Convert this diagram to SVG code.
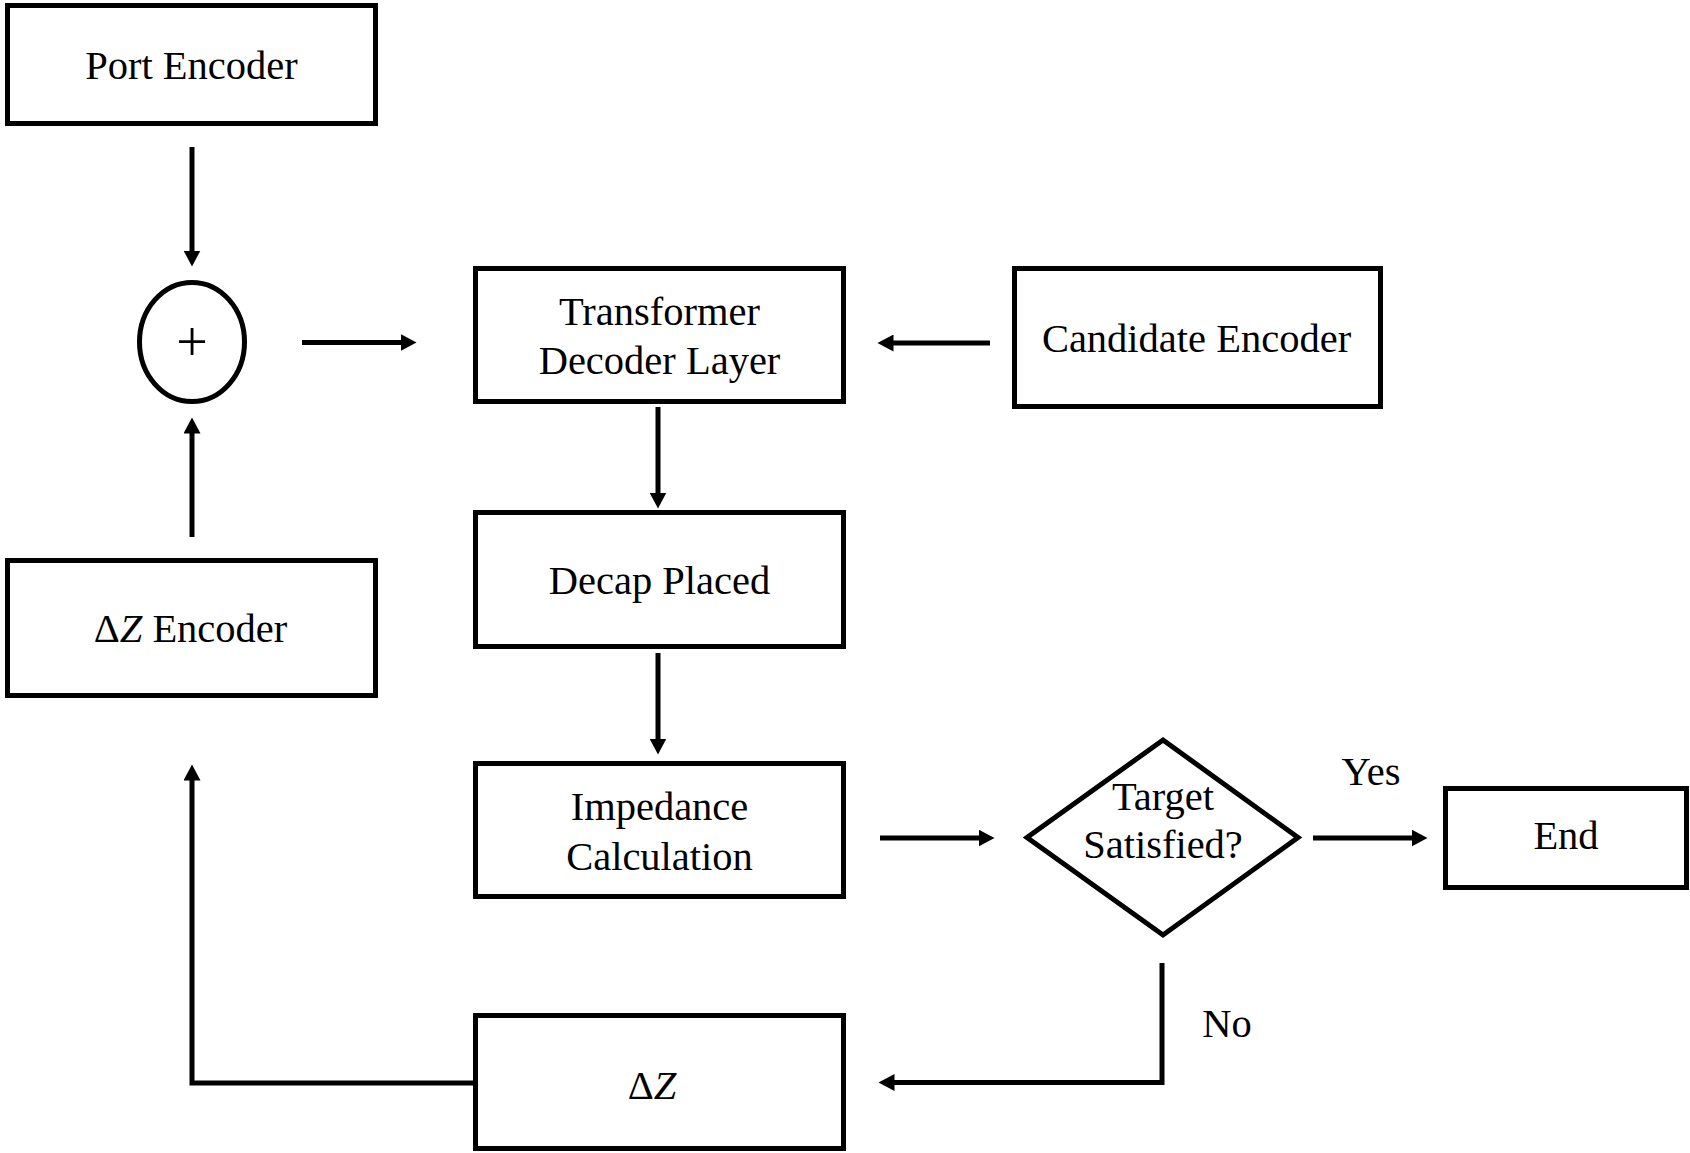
<svg xmlns="http://www.w3.org/2000/svg" width="1690" height="1153" viewBox="0 0 1690 1153">
  <style>
    .box { fill: #ffffff; stroke: #000000; stroke-width: 5; }
    .lbl { font-family: "Liberation Serif", "Times New Roman", serif; font-size: 40.5px; fill: #000000; text-anchor: middle; }
    .wire { fill: none; stroke: #000000; stroke-width: 5; stroke-linejoin: miter; }
  </style>
  <defs>
    <marker id="arrow" markerUnits="userSpaceOnUse" markerWidth="17" markerHeight="17" viewBox="0 0 17 17" refX="0.5" refY="8.5" orient="auto">
      <path d="M0,0 L16,8.5 L0,17 z" fill="#000000"/>
    </marker>
  </defs>

  <rect width="1690" height="1153" fill="#ffffff"/>

  <!-- connectors -->
  <g id="connectors">
    <line class="wire" x1="192" y1="147" x2="192" y2="251" marker-end="url(#arrow)"/>
    <line class="wire" x1="302" y1="342.5" x2="401" y2="342.5" marker-end="url(#arrow)"/>
    <line class="wire" x1="192" y1="537" x2="192" y2="433" marker-end="url(#arrow)"/>
    <line class="wire" x1="990" y1="343" x2="893" y2="343" marker-end="url(#arrow)"/>
    <line class="wire" x1="658" y1="407" x2="658" y2="493" marker-end="url(#arrow)"/>
    <line class="wire" x1="658" y1="653" x2="658" y2="739" marker-end="url(#arrow)"/>
    <line class="wire" x1="880" y1="838" x2="979" y2="838" marker-end="url(#arrow)"/>
    <line class="wire" x1="1313" y1="838" x2="1412" y2="838" marker-end="url(#arrow)"/>
    <path class="wire" d="M1162,963 V1082.5 H894" marker-end="url(#arrow)"/>
    <path class="wire" d="M473,1083 H192 V780" marker-end="url(#arrow)"/>
    <text class="lbl" x="1371" y="785">Yes</text>
    <text class="lbl" x="1227" y="1037">No</text>
  </g>

  <!-- nodes -->
  <g id="port-encoder">
    <rect class="box" x="7.5" y="5.5" width="368" height="118"/>
    <text class="lbl" x="191.5" y="79">Port Encoder</text>
  </g>

  <g id="sum">
    <ellipse class="box" cx="192" cy="342" rx="52.5" ry="59.5"/>
    <text class="lbl" x="192" y="361" style="font-size:56px">+</text>
  </g>

  <g id="transformer-decoder">
    <rect class="box" x="475.5" y="268.5" width="368" height="133"/>
    <text class="lbl" x="659.5" y="325">Transformer</text>
    <text class="lbl" x="659.5" y="374">Decoder Layer</text>
  </g>

  <g id="candidate-encoder">
    <rect class="box" x="1014.5" y="268.5" width="366" height="138"/>
    <text class="lbl" x="1196.5" y="352">Candidate Encoder</text>
  </g>

  <g id="decap-placed">
    <rect class="box" x="475.5" y="512.5" width="368" height="134"/>
    <text class="lbl" x="659.5" y="594">Decap Placed</text>
  </g>

  <g id="impedance-calculation">
    <rect class="box" x="475.5" y="763.5" width="368" height="133"/>
    <text class="lbl" x="659.5" y="820">Impedance</text>
    <text class="lbl" x="659.5" y="870">Calculation</text>
  </g>

  <g id="target-check">
    <polygon class="box" points="1163,740 1298,837.5 1163,935 1027,837.5"/>
    <text class="lbl" x="1163" y="810">Target</text>
    <text class="lbl" x="1163" y="858">Satisfied?</text>
  </g>

  <g id="end">
    <rect class="box" x="1445.5" y="788.5" width="241" height="99"/>
    <text class="lbl" x="1566" y="849">End</text>
  </g>

  <g id="delta-z">
    <rect class="box" x="475.5" y="1015.5" width="368" height="133"/>
    <text class="lbl" x="652" y="1099">Δ<tspan font-style="italic">Z</tspan></text>
  </g>

  <g id="delta-z-encoder">
    <rect class="box" x="7.5" y="560.5" width="368" height="135"/>
    <text class="lbl" x="190.5" y="642">Δ<tspan font-style="italic">Z</tspan> Encoder</text>
  </g>
</svg>
